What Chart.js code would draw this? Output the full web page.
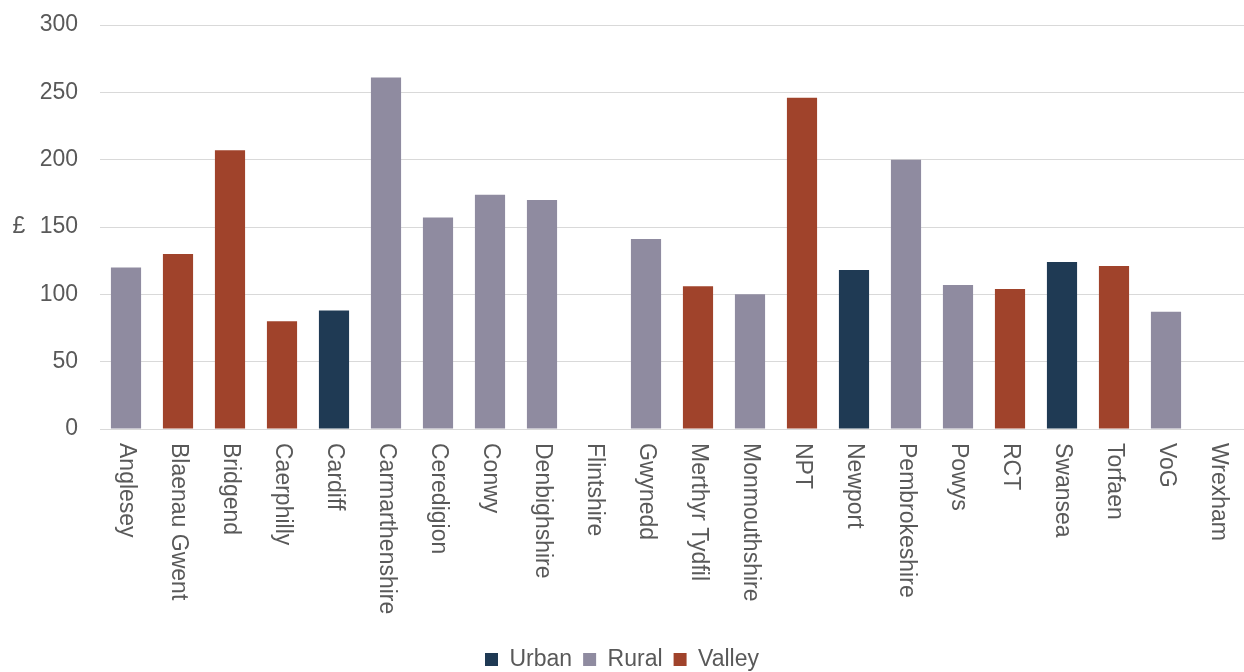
<!DOCTYPE html>
<html>
<head>
<meta charset="utf-8">
<script src="https://cdn.jsdelivr.net/npm/chart.js@4.4.0/dist/chart.umd.min.js"></script>
<style>
  html, body { margin: 0; padding: 0; background: #ffffff; }
  #wrap { width: 1244px; height: 672px; }
</style>
</head>
<body>
<div id="wrap"><canvas id="spendChart"></canvas></div>
<script>
// councils along the x axis
const categories = [
  'Anglesey', 'Blaenau Gwent', 'Bridgend', 'Caerphilly', 'Cardiff',
  'Carmarthenshire', 'Ceredigion', 'Conwy', 'Denbighshire', 'Flintshire',
  'Gwynedd', 'Merthyr Tydfil', 'Monmouthshire', 'NPT', 'Newport',
  'Pembrokeshire', 'Powys', 'RCT', 'Swansea', 'Torfaen', 'VoG', 'Wrexham'
];

// one series per council type, null where the council is in another group (or has no value)
const urban = [null, null, null, null, 88, null, null, null, null, null, null, null, null, null, 118, null, null, null, 124, null, null, null];
const rural = [120, null, null, null, null, 261, 157, 174, 170, null, 141, null, 100, null, null, 200, 107, null, null, null, 87, null];
const valley = [null, 130, 207, 80, null, null, null, null, null, null, null, 106, null, 246, null, null, null, 104, null, 121, null, null];

const yTicks = [0, 50, 100, 150, 200, 250, 300];
const yUnit = '£';

const textColor = '#595959';
const gridColor = '#d9d9d9';
const fontFamily = '"Liberation Sans", Arial, sans-serif';
const fontSize = 23;

// draws the "£" beside the y axis and the x labels turned clockwise
const extraText = {
  id: 'extraText',
  afterDraw(chart) {
    const ctx = chart.ctx;
    const area = chart.chartArea;
    const xScale = chart.scales.x;
    ctx.save();
    ctx.fillStyle = textColor;
    ctx.font = fontSize + 'px ' + fontFamily;
    ctx.textAlign = 'center';
    ctx.textBaseline = 'middle';
    ctx.fillText(yUnit, 19, (area.top + area.bottom) / 2);

    categories.forEach((name, i) => {
      const px = xScale.getPixelForTick(i);
      ctx.save();
      ctx.translate(px, area.bottom + 14);
      ctx.rotate(Math.PI / 2);
      ctx.textAlign = 'left';
      ctx.textBaseline = 'middle';
      ctx.fillText(name, 0, 0);
      ctx.restore();
    });
    ctx.restore();
  }
};

const ctx = document.getElementById('spendChart').getContext('2d');

new Chart(ctx, {
  type: 'bar',
  data: {
    labels: categories,
    datasets: [
      { label: 'Urban', data: urban, backgroundColor: '#1f3a54' },
      { label: 'Rural', data: rural, backgroundColor: '#8f8ba0' },
      { label: 'Valley', data: valley, backgroundColor: '#a0432b' }
    ]
  },
  options: {
    responsive: true,
    maintainAspectRatio: false,
    animation: false,
    barPercentage: 0.58,
    categoryPercentage: 1,
    layout: {
      padding: { top: 25, right: 0, bottom: -9, left: 0 }
    },
    plugins: {
      legend: {
        position: 'bottom',
        labels: {
          boxWidth: 13,
          boxHeight: 13,
          padding: 11,
          color: textColor,
          font: { family: fontFamily, size: fontSize }
        }
      },
      tooltip: { enabled: false }
    },
    scales: {
      x: {
        stacked: true,
        grid: { display: false },
        border: { color: gridColor, width: 1 },
        ticks: { display: false },
        afterFit(scale) { scale.height = 208; }
      },
      y: {
        stacked: true,
        min: 0,
        max: 300,
        afterBuildTicks(scale) { scale.ticks = yTicks.map(v => ({ value: v })); },
        grid: { color: gridColor, drawTicks: false },
        border: { display: false },
        ticks: {
          padding: 22,
          color: textColor,
          font: { family: fontFamily, size: fontSize }
        },
        afterFit(scale) {
          scale.width = 100;
          scale.paddingTop = 0;
          scale.paddingBottom = 0;
        }
      }
    }
  },
  plugins: [extraText]
});
</script>
</body>
</html>
